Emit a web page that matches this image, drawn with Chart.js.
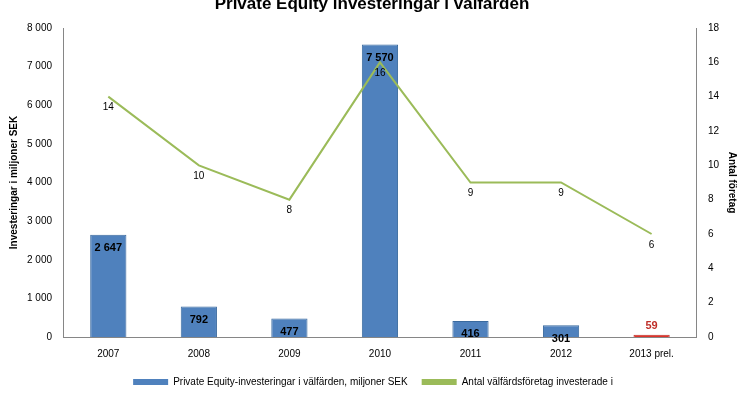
<!DOCTYPE html>
<html><head><meta charset="utf-8">
<script src="https://cdn.jsdelivr.net/npm/chart.js@4"></script>
<style>body{margin:0;background:#fff}#wrap{width:746px;height:419px}</style>
</head><body><div id="wrap"><canvas id="c"></canvas></div>
<script>
const years = ['2007', '2008', '2009', '2010', '2011', '2012', '2013 prel.'];
const investments = [2647, 792, 477, 7570, 416, 301, 59];
const companies = [14, 10, 8, 16, 9, 9, 6];
const barColors = ['#4f81bd', '#4f81bd', '#4f81bd', '#4f81bd', '#4f81bd', '#4f81bd', '#e0322a'];
const barBorders = ['#3a6a9e', '#3a6a9e', '#3a6a9e', '#3a6a9e', '#3a6a9e', '#3a6a9e', '#c0302a'];

const fmt = v => v.toLocaleString('sv-SE').replace(/\s/g, ' ');
const F = '"Liberation Sans", Arial, sans-serif';

const labelPlugin = {
    id: 'labels',
    afterDatasetsDraw(chart) {
        const ctx = chart.ctx;
        ctx.save();
        ctx.font = 'bold 11px ' + F;
        ctx.textAlign = 'center';
        chart.getDatasetMeta(0).data.forEach((el, i) => {
            if (investments[i] > 200) {
                ctx.fillStyle = '#000';
                ctx.textBaseline = 'top';
                ctx.fillText(fmt(investments[i]), el.x, el.y + 8);
            } else {
                ctx.fillStyle = '#c0302a';
                ctx.textBaseline = 'bottom';
                ctx.fillText(fmt(investments[i]), el.x, el.y - 3);
            }
        });
        ctx.font = '10px ' + F;
        ctx.fillStyle = '#000';
        ctx.textBaseline = 'top';
        chart.getDatasetMeta(1).data.forEach((el, i) => {
            ctx.fillText(companies[i], el.x, el.y + 6);
        });
        ctx.font = 'bold 17px ' + F;
        ctx.textBaseline = 'middle';
        ctx.fillText('Private Equity investeringar i välfärden', 372, 4);
        ctx.restore();
    }
};

new Chart(document.getElementById('c'), {
    data: {
        labels: years,
        datasets: [{
            type: 'bar',
            label: 'Private Equity-investeringar i välfärden, miljoner SEK',
            data: investments,
            backgroundColor: barColors,
            borderColor: barBorders,
            borderWidth: 1,
            barPercentage: 0.4,
            categoryPercentage: 1,
            yAxisID: 'y',
            order: 2
        }, {
            type: 'line',
            label: 'Antal välfärdsföretag investerade i',
            data: companies,
            borderColor: '#9bbb59',
            backgroundColor: '#9bbb59',
            borderWidth: 2,
            pointRadius: 0,
            tension: 0,
            yAxisID: 'y1',
            order: 1
        }]
    },
    options: {
        responsive: true,
        maintainAspectRatio: false,
        animation: false,
        layout: { padding: { top: 28, left: 4, right: 4, bottom: 22 } },
        plugins: {
            legend: {
                position: 'bottom',
                labels: {
                    font: { size: 10, family: F }, color: '#000', boxWidth: 35, boxHeight: 6, padding: 14,
                    generateLabels: chart => chart.data.datasets.map((d, i) => ({
                        text: d.label, fillStyle: i === 0 ? '#4f81bd' : '#9bbb59',
                        strokeStyle: i === 0 ? '#4f81bd' : '#9bbb59', lineWidth: 0, datasetIndex: i
                    }))
                }
            },
            tooltip: { enabled: false }
        },
        scales: {
            x: {
                grid: { display: false },
                border: { color: '#868686' },
                ticks: { color: '#000', font: { size: 10, family: F } }
            },
            y: {
                min: 0, max: 8000,
                ticks: { stepSize: 1000, color: '#000', font: { size: 10, family: F }, callback: v => fmt(v) },
                grid: { display: false },
                border: { color: '#868686' },
                title: { display: true, text: 'Investeringar i miljoner SEK', font: { size: 10, weight: 'bold', family: F }, color: '#000' }
            },
            y1: {
                position: 'right',
                min: 0, max: 18,
                ticks: { stepSize: 2, color: '#000', font: { size: 10, family: F } },
                grid: { display: false },
                border: { color: '#868686' },
                title: { display: true, text: 'Antal företag', font: { size: 10, weight: 'bold', family: F }, color: '#000' }
            }
        }
    },
    plugins: [labelPlugin]
});
</script></body></html>
